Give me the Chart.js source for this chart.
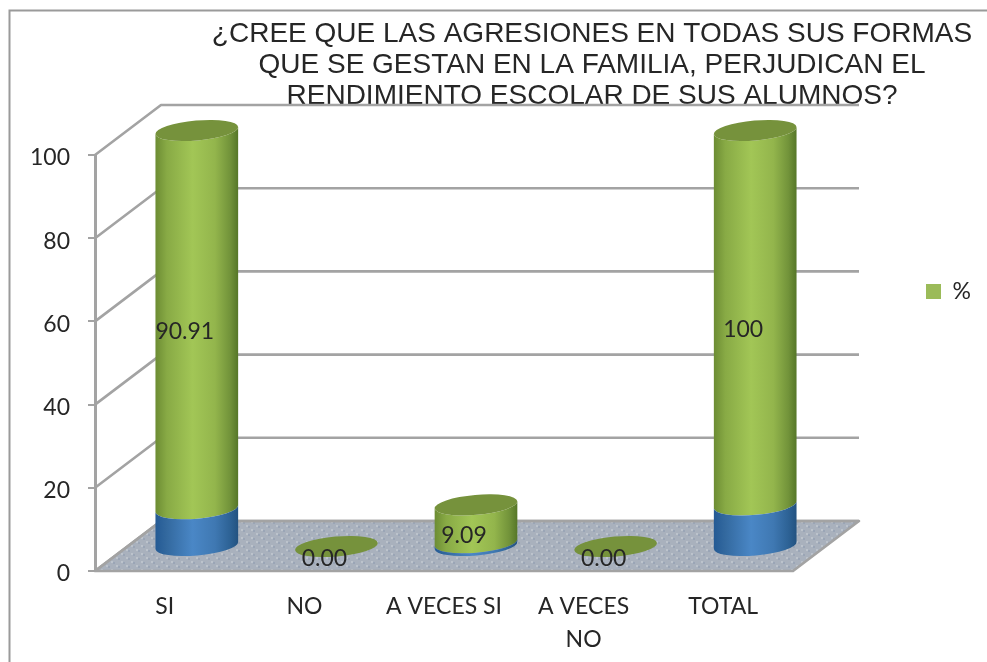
<!DOCTYPE html>
<html>
<head>
<meta charset="utf-8">
<style>html,body{margin:0;padding:0;background:#fff}#w{position:relative;width:987px;height:662px}</style>
<script src="https://cdn.jsdelivr.net/npm/chart.js@4/dist/chart.umd.js"></script>
</head>
<body>
<div id="w"><canvas id="c" width="987" height="662"></canvas></div>
<script>
const categories = ['SI', 'NO', 'A VECES SI', ['A VECES', 'NO'], 'TOTAL'];
const greenValues = [90.91, 0, 9.09, 0, 90];
const blueValues = [9.09, 0, 0.91, 0, 10];
const dataLabels = ['90.91', '0.00', '9.09', '0.00', '100'];
const seriesName = '%';
const titleLines = ['¿CREE QUE LAS AGRESIONES EN TODAS SUS FORMAS', 'QUE SE GESTAN EN LA FAMILIA, PERJUDICAN EL', 'RENDIMIENTO ESCOLAR DE SUS ALUMNOS?'];
const yTicks = [0, 20, 40, 60, 80, 100];

const AREA = {left: 95, top: 155, right: 793, bottom: 571};
const DEPTH = {x: 66, y: 50};
const BAR_SHIFT = {x: 32, y: -24.5};
const ELL = {ry: 10, rot: -5 * Math.PI / 180};
const WALL = '#a3a3a3';
const TEXT = '#262626';
const FONT = 'Lato';
const FONT_SIZE = 23;

const RAMPS = {
  green: [[0, '#6c8c33'], [.14, '#88aa45'], [.45, '#a2c656'], [.72, '#93b54c'], [.9, '#72933a'], [1, '#557627']],
  blue: [[0, '#245a94'], [.14, '#33699f'], [.45, '#4a87c6'], [.72, '#3f78b2'], [.9, '#2d6295'], [1, '#235280']]
};

Chart.BarElement.prototype.draw = function (ctx) {
  const rampName = this.options.backgroundColor === '#4f81bd' ? 'blue' : 'green';
  const rx = this.width / 2, x = this.x, top = this.y, base = this.base;
  if (base - top > 0.3) {
    const g = ctx.createLinearGradient(x - rx, 0, x + rx, 0);
    RAMPS[rampName].forEach(s => g.addColorStop(s[0], s[1]));
    ctx.beginPath();
    ctx.ellipse(x, base, rx, ELL.ry, ELL.rot, 0, Math.PI);
    ctx.ellipse(x, top, rx, ELL.ry, ELL.rot, Math.PI, 0, true);
    ctx.closePath();
    ctx.fillStyle = g;
    ctx.fill();
  }
  if (rampName === 'green') {
    ctx.beginPath();
    ctx.ellipse(x, top, rx, ELL.ry, ELL.rot, 0, Math.PI * 2);
    ctx.fillStyle = '#76923c';
    ctx.fill();
  }
};

function floorPattern(ctx) {
  const c = document.createElement('canvas');
  c.width = 10; c.height = 8;
  const p = c.getContext('2d');
  p.fillStyle = '#a9b1bd';
  p.fillRect(0, 0, 10, 8);
  const dot = (x, y, col) => { p.fillStyle = col; p.fillRect(x, y, 2, 2); };
  dot(1, 1, '#bcc3cc'); dot(6, 5, '#bcc3cc');
  dot(3, 2, '#9aa5b6'); dot(8, 6, '#9aa5b6');
  return ctx.createPattern(c, 'repeat');
}

const scene = {
  id: 'scene',
  beforeDraw(chart) {
    const ctx = chart.ctx;
    ctx.save();
    ctx.strokeStyle = '#9a9a9a';
    ctx.lineWidth = 2;
    ctx.beginPath();
    ctx.moveTo(9.5, 662); ctx.lineTo(9.5, 10.5); ctx.lineTo(987, 10.5);
    ctx.stroke();
    ctx.restore();
  },
  afterLayout(chart) {
    const t = chart.titleBlock;
    t.left = 197; t.right = 987; t.top = 19;
    const l = chart.legend;
    l.left = 916; l.right = 985; l.top = 270; l.bottom = 325;
  },
  beforeDatasetsDraw(chart) {
    const {ctx, scales: {x, y}} = chart;
    const L = x.left, R = x.right;
    ctx.save();
    const b0 = y.getPixelForValue(0);
    ctx.beginPath();
    ctx.moveTo(L, b0);
    ctx.lineTo(R, b0);
    ctx.lineTo(R + DEPTH.x, b0 - DEPTH.y);
    ctx.lineTo(L + DEPTH.x, b0 - DEPTH.y);
    ctx.closePath();
    ctx.fillStyle = floorPattern(ctx);
    ctx.fill();
    ctx.strokeStyle = WALL;
    ctx.lineWidth = 2.6;
    ctx.lineJoin = 'round';
    ctx.stroke();
    yTicks.forEach(v => {
      const p = y.getPixelForValue(v);
      ctx.beginPath();
      ctx.moveTo(L, p);
      ctx.lineTo(L + DEPTH.x, p - DEPTH.y);
      ctx.lineTo(R + DEPTH.x, p - DEPTH.y);
      ctx.stroke();
    });
    ctx.restore();
  },
  beforeDatasetDraw(chart) {
    chart.ctx.save();
    chart.ctx.translate(BAR_SHIFT.x, BAR_SHIFT.y);
  },
  afterDatasetDraw(chart) {
    chart.ctx.restore();
  },
  afterDatasetsDraw(chart) {
    const ctx = chart.ctx;
    const els = chart.getDatasetMeta(0).data;
    ctx.save();
    ctx.font = FONT_SIZE + 'px ' + FONT;
    ctx.fillStyle = TEXT;
    ctx.textAlign = 'center';
    ctx.textBaseline = 'middle';
    els.forEach((el, i) => {
      const mid = (el.y + el.base) / 2 + BAR_SHIFT.y;
      ctx.fillText(dataLabels[i], el.x + BAR_SHIFT.x - 12, mid + 12);
    });
    ctx.restore();
  }
};

function nudgeLabels(s) {
  if (s._nudged) return;
  s._nudged = true;
  const orig = s._computeLabelItems;
  s._computeLabelItems = function (area) {
    return orig.call(this, area).map(it => Object.assign({}, it, {options: Object.assign({}, it.options, {textOffset: 0}), textOffset: (it.textOffset || 0) + 3}));
  };
}

const chart = new Chart(document.getElementById('c'), {
  type: 'bar',
  data: {
    labels: categories,
    datasets: [
      {label: seriesName, data: greenValues, backgroundColor: '#9bbb59', borderWidth: 0, order: 2, clip: false},
      {label: 'base', data: blueValues, backgroundColor: '#4f81bd', borderWidth: 0, order: 1, clip: false}
    ]
  },
  options: {
    responsive: false,
    animation: false,
    devicePixelRatio: 1,
    layout: {padding: {top: 0, right: 100, bottom: 0, left: 0}},
    datasets: {bar: {barPercentage: 83 / 139.6, categoryPercentage: 1}},
    plugins: {
      title: {
        display: true,
        text: titleLines,
        color: TEXT,
        font: {family: '"Liberation Sans"', size: 28, weight: 'normal', lineHeight: 1.11},
        padding: {top: 0, bottom: 0}
      },
      legend: {
        display: true,
        position: 'right',
        align: 'start',
        labels: {
          boxWidth: 15, boxHeight: 15, padding: 10, color: TEXT,
          font: {family: FONT, size: FONT_SIZE},
          filter: item => item.datasetIndex === 0
        }
      },
      tooltip: {enabled: false}
    },
    scales: {
      x: {
        stacked: true,
        grid: {display: false},
        border: {display: true, color: WALL, width: 2},
        afterFit: s => { s.height = 662 - AREA.bottom; },
        ticks: {color: TEXT, padding: 11, autoSkip: false, maxRotation: 0, font: {family: FONT, size: FONT_SIZE, lineHeight: 1.45}}
      },
      y: {
        stacked: true,
        min: 0, max: 100,
        afterFit: s => { s.width = AREA.left; nudgeLabels(s); },
        afterBuildTicks: s => { s.ticks = yTicks.map(v => ({value: v})); },
        grid: {drawOnChartArea: false, drawTicks: true, tickLength: 7, color: WALL, lineWidth: 2},
        border: {display: true, color: WALL, width: 3},
        ticks: {color: TEXT, padding: 18, font: {family: FONT, size: FONT_SIZE}}
      }
    }
  },
  plugins: [scene]
});

for (let i = 0; i < 3; i++) {
  const p = chart.options.layout.padding;
  p.right += chart.chartArea.right - AREA.right;
  p.top += AREA.top - chart.chartArea.top;
  chart.update('none');
}
</script>
</body>
</html>
